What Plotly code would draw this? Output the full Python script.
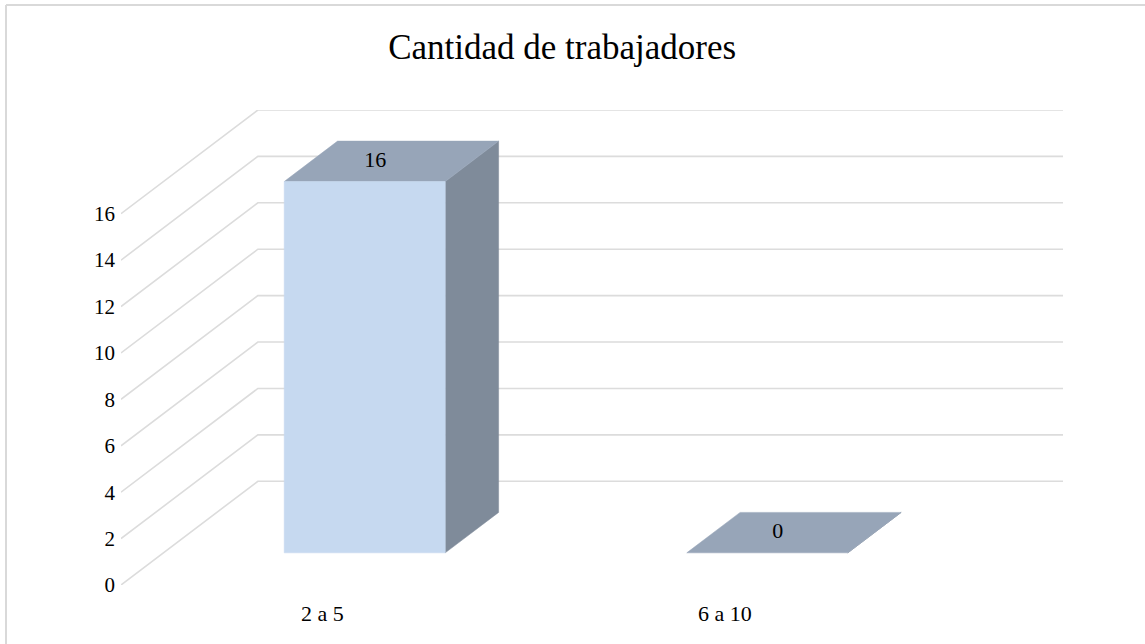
import plotly.graph_objects as go

# Chart data
categories = ["2 a 5", "6 a 10"]
counts = [16, 0]
y_ticks = [0, 2, 4, 6, 8, 10, 12, 14, 16]
title_text = "Cantidad de trabajadores"

# Oblique 3-D projection: the depth axis runs up and to the right.
DX = 0.340            # x shift (category units) across the full floor depth
DY = 4.47             # y shift (value units) across the full floor depth
Z0, Z1 = 0.31, 0.70   # depth span occupied by the bars
HALF_W = 0.20         # half bar width in category units
X_MIN = -0.5
X_MAX = len(categories) - 0.5
Y_TOP = max(y_ticks)

FONT = "Liberation Serif, Times New Roman, serif"
GRID = "#dcdcdc"
FRONT = "#c6d9f0"
SIDE = "#7f8b9a"
TOP = "#97a5b8"


def proj(x, v, z):
    return x + z * DX, v + z * DY


fig = go.Figure()

# Gridlines: diagonal along the left wall, then horizontal along the back wall
gx, gy = [], []
for t in y_ticks:
    for x, v, z in [(X_MIN, t, 0.0), (X_MIN, t, 1.0), (X_MAX, t, 1.0)]:
        px, py = proj(x, v, z)
        gx.append(px)
        gy.append(py)
    gx.append(None)
    gy.append(None)
fig.add_trace(go.Scatter(x=gx, y=gy, mode="lines",
                         line=dict(color=GRID, width=1.6),
                         hoverinfo="skip", showlegend=False))


def face(points, color):
    xs, ys = zip(*[proj(*p) for p in points])
    fig.add_trace(go.Scatter(x=list(xs) + [xs[0]], y=list(ys) + [ys[0]],
                             mode="lines", fill="toself", fillcolor=color,
                             line=dict(width=0.5, color=color),
                             hoverinfo="skip", showlegend=False))


for i, v in enumerate(counts):
    xl, xr = i - HALF_W, i + HALF_W
    # right side face
    face([(xr, 0, Z0), (xr, 0, Z1), (xr, v, Z1), (xr, v, Z0)], SIDE)
    # top face
    face([(xl, v, Z0), (xr, v, Z0), (xr, v, Z1), (xl, v, Z1)], TOP)
    # front face
    if v > 0:
        face([(xl, 0, Z0), (xr, 0, Z0), (xr, v, Z0), (xl, v, Z0)], FRONT)

# Value labels sitting on the top faces
zc = 0.5 * (Z0 + Z1)
lx, ly = [], []
for i, v in enumerate(counts):
    px, py = proj(i - 0.04, v, zc)
    lx.append(px)
    ly.append(py)
fig.add_trace(go.Scatter(x=lx, y=ly, mode="text",
                         text=[str(v) for v in counts],
                         textposition="middle center",
                         textfont=dict(family=FONT, size=22, color="#000000"),
                         hoverinfo="skip", showlegend=False))

# Outer chart frame (only its top and left edges fall inside the page)
fx0 = (6 - 121) / 942
fx1 = (1145 - 121) / 942
fy1 = (585 - 5) / 475
fy0 = (585 - 644) / 475
frame = dict(color="#d9d9d9", width=2)

fig.update_layout(
    width=1145, height=644,
    margin=dict(l=121, r=82, t=110, b=59, pad=0),
    paper_bgcolor="white", plot_bgcolor="white",
    showlegend=False,
    title=dict(text=title_text, x=0.491, xref="container", xanchor="center",
               y=0.927, yref="container", yanchor="middle",
               font=dict(family=FONT, size=35, color="#000000")),
    xaxis=dict(range=[X_MIN, X_MAX + DX], showgrid=False, zeroline=False,
               showline=False, ticks="", tickmode="array",
               tickvals=list(range(len(categories))), ticktext=categories,
               ticklabelstandoff=13,
               tickfont=dict(family=FONT, size=22, color="#000000")),
    yaxis=dict(range=[0, Y_TOP + DY], showgrid=False, zeroline=False,
               showline=False, ticks="", tickmode="array",
               tickvals=y_ticks, ticktext=[str(t) for t in y_ticks],
               ticklabelstandoff=5,
               tickfont=dict(family=FONT, size=21, color="#000000")),
    shapes=[
        dict(type="line", xref="paper", yref="paper",
             x0=fx0, x1=fx1, y0=fy1, y1=fy1, line=frame, layer="below"),
        dict(type="line", xref="paper", yref="paper",
             x0=fx0, x1=fx0, y0=fy1, y1=fy0, line=frame, layer="below"),
    ],
)

fig.write_html("out.html")
